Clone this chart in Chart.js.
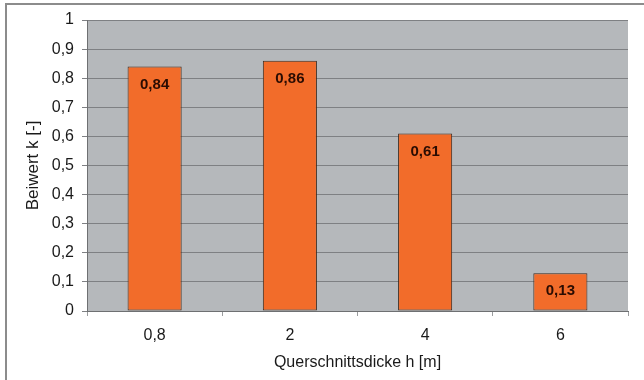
<!DOCTYPE html>
<html>
<head>
<meta charset="utf-8">
<script src="https://cdn.jsdelivr.net/npm/chart.js@4/dist/chart.umd.min.js"></script>
<style>
  html, body { margin: 0; padding: 0; background: #fff; }
  #wrap { width: 644px; height: 380px; position: relative; }
</style>
</head>
<body>
<div id="wrap"><canvas id="bgChart"></canvas></div>
<script>
const categories = ['0,8', '2', '4', '6'];
const values = [0.84, 0.86, 0.61, 0.13];
const yTicks = [0, 0.1, 0.2, 0.3, 0.4, 0.5, 0.6, 0.7, 0.8, 0.9, 1];

const fmt = v => String(v).replace('.', ',');
const FONT = '"Liberation Sans", Arial, sans-serif';

// grey plot background + frame round the picture
const background = {
    id: 'background',
    beforeDraw(chart) {
        const {ctx, chartArea: a} = chart;
        ctx.save();
        ctx.fillStyle = '#b5b8bb';
        ctx.fillRect(a.left, a.top, a.right - a.left, a.bottom - a.top);
        ctx.strokeStyle = '#8c8c8c';
        ctx.lineWidth = 2;
        ctx.beginPath();
        ctx.moveTo(6, 380);
        ctx.lineTo(6, 4);
        ctx.lineTo(644, 4);
        ctx.stroke();
        ctx.restore();
    }
};

// value labels inside the top of each bar
const barLabels = {
    id: 'barLabels',
    afterDatasetsDraw(chart) {
        const {ctx} = chart;
        const meta = chart.getDatasetMeta(0);
        ctx.save();
        ctx.font = 'bold 15px ' + FONT;
        ctx.fillStyle = '#2a0c02';
        ctx.textAlign = 'center';
        ctx.textBaseline = 'middle';
        meta.data.forEach((bar, i) => {
            ctx.fillText(fmt(values[i]), bar.x, bar.y + 18);
        });
        ctx.restore();
    }
};

const ctxs = document.getElementById('bgChart').getContext('2d');

new Chart(ctxs, {
    type: 'bar',
    data: {
        labels: categories,
        datasets: [{
            data: values,
            backgroundColor: '#f26c2a',
            borderColor: '#3d2a1e',
            borderWidth: 1,
            borderSkipped: false,
            barPercentage: 0.4,
            categoryPercentage: 1
        }]
    },
    options: {
        responsive: true,
        maintainAspectRatio: false,
        animation: false,
        layout: { padding: { left: 0, top: 20, right: 16, bottom: 0 } },
        scales: {
            x: {
                offset: true,
                afterFit(scale) { scale.height = 69; },
                grid: {
                    offset: true,
                    drawOnChartArea: false,
                    tickLength: 5,
                    color: '#9a9c9e'
                },
                border: { color: '#6e7072', width: 1 },
                ticks: {
                    padding: 10,
                    color: '#1a1a1a',
                    font: { family: FONT, size: 16 }
                },
                title: {
                    display: true,
                    text: 'Querschnittsdicke h [m]',
                    color: '#1a1a1a',
                    padding: { top: 0, bottom: 8 },
                    font: { family: FONT, size: 16 }
                }
            },
            y: {
                min: 0,
                max: 1,
                afterFit(scale) { scale.width = 87; },
                afterBuildTicks(scale) { scale.ticks = yTicks.map(v => ({value: v})); },
                grid: {
                    color: '#7e8083',
                    tickLength: 5
                },
                border: { color: '#6e7072', width: 1 },
                ticks: {
                    padding: 8,
                    color: '#1a1a1a',
                    callback: v => fmt(Math.round(v * 10) / 10),
                    font: { family: FONT, size: 16 }
                },
                title: {
                    display: true,
                    text: 'Beiwert k [-]',
                    color: '#1a1a1a',
                    padding: { top: 23, bottom: 0 },
                    font: { family: FONT, size: 17 }
                }
            }
        },
        plugins: {
            legend: { display: false },
            tooltip: { enabled: false }
        }
    },
    plugins: [background, barLabels]
});
</script>
</body>
</html>
